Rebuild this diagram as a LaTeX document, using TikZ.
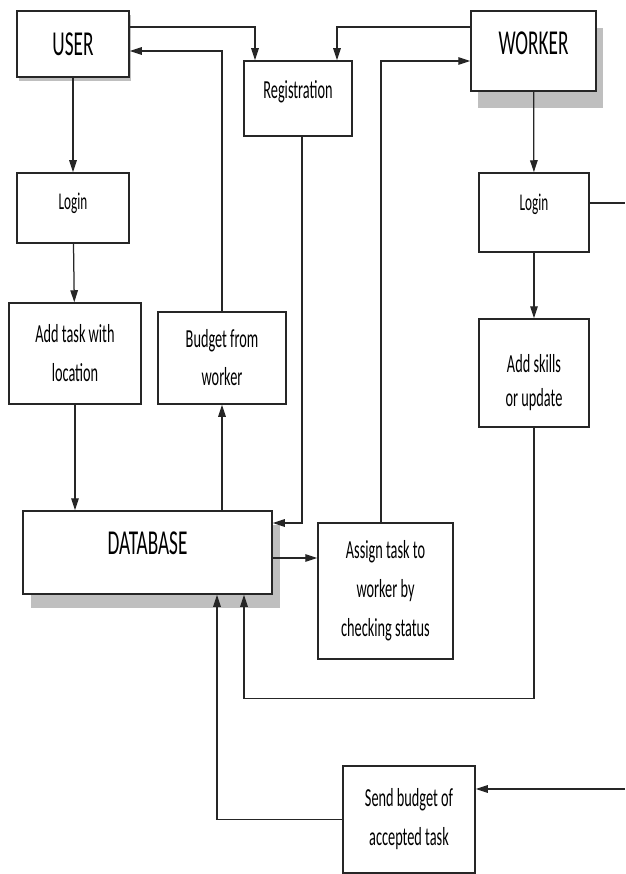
\documentclass[tikz,border=0pt]{standalone}
\usepackage{fontspec}
\setmainfont{Carlito}[FakeStretch=0.55]
\usetikzlibrary{arrows.meta,shadows}

\begin{document}
\begin{tikzpicture}[x=1pt,y=-1pt,
  box/.style={draw=black!85,line width=1.5pt,fill=white,inner sep=0pt,align=center,
    font=\fontsize{26}{39}\selectfont},
  bigbox/.style={box,font=\fontsize{35}{42}\selectfont},
  boxshadow/.style 2 args={drop shadow={shadow xshift=#1,shadow yshift=#2,fill=black!25,opacity=1}},
  link/.style={draw=black!85,line width=1.25pt},
  flow/.style={link,-{Triangle[length=12pt,width=7.5pt]}}]
\useasboundingbox (0,0) rectangle (625,874);

%% user side
\node[bigbox,boxshadow={2pt}{-4pt},minimum width=112pt,minimum height=66pt] (user) at (73,44) {USER};
\node[box,font=\fontsize{24}{30}\selectfont,minimum width=112pt,minimum height=70pt,
      text height=15pt,text depth=11pt] (ulogin) at (73,208) {Login};
\node[box,minimum width=132pt,minimum height=101pt] (addtask) at (75,353.5) {Add task with\\location};
\node[box,font=\fontsize{26}{38}\selectfont,minimum width=128pt,minimum height=92pt] (budget) at (222,358) {Budget from\\worker};

%% middle
\node[box,minimum width=108pt,minimum height=75pt,text height=17pt,text depth=17pt] (reg) at (298,98.5) {Registration};
\node[bigbox,boxshadow={8pt}{-14pt},minimum width=249pt,minimum height=83pt,
      text height=22.5pt,text depth=18pt] (db) at (147.5,552.5) {DATABASE};
\node[box,minimum width=135pt,minimum height=136pt] (assign) at (385.5,591) {Assign task to\\worker by\\checking status};
\node[box,minimum width=132pt,minimum height=107pt] (send) at (409,819.5) {Send budget of\\accepted task};

%% worker side
\node[bigbox,boxshadow={7pt}{-17pt},minimum width=125pt,minimum height=80pt,
      text height=22.5pt,text depth=15pt] (worker) at (533.5,51) {WORKER};
\node[box,font=\fontsize{24}{30}\selectfont,minimum width=110pt,minimum height=79pt,
      text height=15pt,text depth=18.6pt] (wlogin) at (534,212.5) {Login};
\node[box,font=\fontsize{26}{34}\selectfont,minimum width=110pt,minimum height=108pt] (skills) at (534,373)
      {\rule{0pt}{37pt}Add skills\\or update};

%% loose ends at the right margin
\coordinate (outA) at (625,203);
\coordinate (outB) at (625,789);

%% connectors
\draw[flow] ([yshift=17pt]user.east) -| ([xshift=-43pt]reg.north);
\draw[flow] ([yshift=24pt]worker.west) -| ([xshift=39pt]reg.north);
\draw[flow] (budget.north) |- ([yshift=-7pt]user.east);
\draw[flow] ([xshift=4pt]reg.south) |- ([yshift=29.5pt]db.east);
\draw[flow] ([xshift=-4.5pt]assign.north) |- ([yshift=-10pt]worker.west);

\draw[flow] (user) -- (ulogin);
\draw[flow] (ulogin) -- (addtask);
\draw[flow] (addtask.south) -- (addtask.south |- db.north);
\draw[flow] (budget.south |- db.north) -- (budget.south);
\draw[flow] ([yshift=-5.5pt]db.east) -- ([yshift=-5.5pt]db.east -| assign.west);

\draw[flow] (worker) -- (wlogin);
\draw[flow] (wlogin) -- (skills);
\draw[flow] (skills.south) |- ([xshift=96.5pt,yshift=-104pt]db.south) -- ([xshift=96.5pt]db.south);
\draw[flow] (send.west) -| ([xshift=69.5pt]db.south);

\draw[link] ([yshift=9.5pt]wlogin.east) -- (outA);
\draw[flow] (outB) -- ([yshift=30.5pt]send.east);
\end{tikzpicture}
\end{document}
